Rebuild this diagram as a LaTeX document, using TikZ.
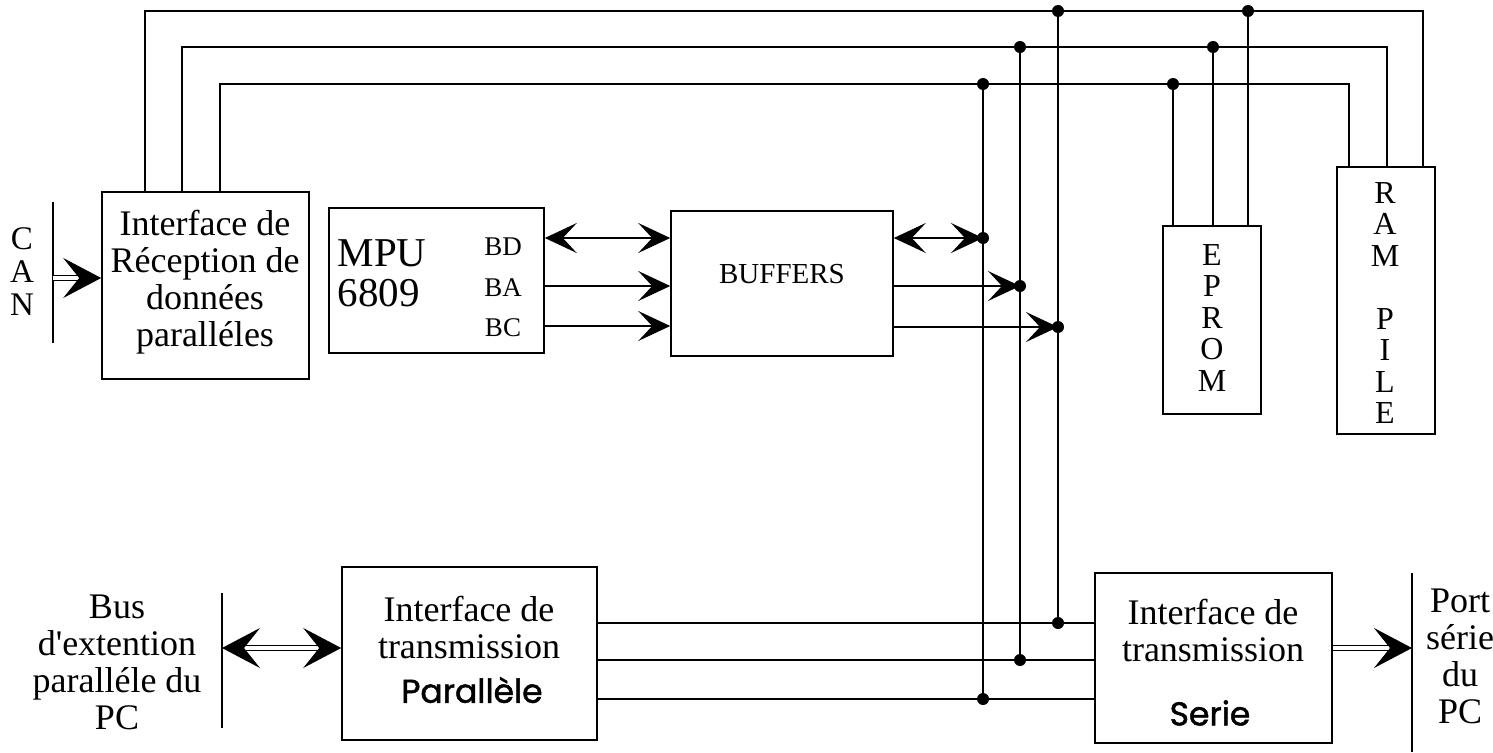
\documentclass[tikz,border=0pt]{standalone}
\usepackage{fontspec}
\setmainfont{Liberation Serif}[Ligatures=TeXOff]
\newfontfamily\handfont{Poppins}[FakeBold=1.5]
\usetikzlibrary{arrows.meta}
\begin{document}
\begin{tikzpicture}[x=1pt,y=-1pt,
  line width=1.4pt,
  box/.style={draw, line width=1.6pt, inner sep=0pt},
  txt/.style={align=center, inner sep=0pt, font=\fontsize{36}{37}\selectfont},
  lbl/.style={inner sep=0pt, font=\fontsize{27}{28}\selectfont},
  vert/.style={align=center, inner sep=0pt, font=\fontsize{32}{31.5}\selectfont},
  hand/.style={inner sep=0pt, font=\handfont\fontsize{33}{34}\selectfont},
  btip/.tip={Stealth[length=32pt,width=30pt,inset=14pt]},
  htip/.tip={Stealth[length=38pt,width=40pt,inset=16pt]},
  dbl/.style={double, double distance=4pt, line width=1.2pt}
]
\useasboundingbox (0,0) rectangle (1493,752);

% boxes
\node[box, minimum width=207pt, minimum height=187pt] (rec) at (205.5,285.5) {};
\node[box, minimum width=215pt, minimum height=145pt] (mpu) at (436.5,280.5) {};
\node[box, minimum width=222pt, minimum height=145pt] (buf) at (782,283.5) {};
\node[box, minimum width=98pt, minimum height=188pt] (eprom) at (1212,320) {};
\node[box, minimum width=98pt, minimum height=267pt] (ram) at (1386,300.5) {};
\node[box, minimum width=255pt, minimum height=173pt] (par) at (469.5,653.5) {};
\node[box, minimum width=237pt, minimum height=170pt] (ser) at (1213.5,658) {};

% texts
\node[txt] (rectxt) at (205,282) {Interface de\\Réception de\\données\\paralléles};
\node[txt, align=left, anchor=west, font=\fontsize{41}{40}\selectfont] (mputxt) at (337,273) {MPU\\6809};
\node[lbl] (bd) at (503,247) {BD};
\node[lbl] (ba) at (503,288) {BA};
\node[lbl] (bc) at (503,328) {BC};
\node[txt, font=\fontsize{29}{30}\selectfont] (buftxt) at (782,274) {BUFFERS};
\node[vert] (epromtxt) at (1212,318) {E\\P\\R\\O\\M};
\node[vert] (ramtxt) at (1385,303) {R\\A\\M\\\mbox{}\\P\\I\\L\\E};
\node[txt] (partxt) at (469,627) {Interface de\\transmission};
\node[hand] (parhand) at (472,690) {Parallèle};
\node[txt] (sertxt) at (1213,630) {Interface de\\transmission};
\node[hand] (serhand) at (1210,713) {Serie};
\node[txt] (bustxt) at (117,662) {Bus\\d'extention\\paralléle du\\PC};
\node[txt] (porttxt) at (1460,656) {Port\\série\\du\\PC};
\node[txt, font=\fontsize{33}{33}\selectfont] (cantxt) at (22,272) {C\\A\\N};

% coordinates
\coordinate (t1L) at (145,11);  \coordinate (t1R) at (1423,11);
\coordinate (t2L) at (182,47);  \coordinate (t2R) at (1387,47);
\coordinate (t3L) at (220,84);  \coordinate (t3R) at (1349,84);
\coordinate (e1) at (1248,11);  \coordinate (e2) at (1213,47);  \coordinate (e3) at (1173,84);
\coordinate (v1) at (1058,11);  \coordinate (v2) at (1020,47);  \coordinate (v3) at (983,84);
\coordinate (j1) at (1058,623); \coordinate (j2) at (1020,660); \coordinate (j3) at (983,699);
\coordinate (o1) at (983,238);  \coordinate (o2) at (1020,286); \coordinate (o3) at (1058,327);
\coordinate (bdy) at (600,238); \coordinate (bay) at (600,286); \coordinate (bcy) at (600,326);
\coordinate (canT) at (53,202); \coordinate (canB) at (53,343); \coordinate (canA) at (53,278);
\coordinate (busT) at (222,593); \coordinate (busB) at (222,728); \coordinate (busA) at (222,648);
\coordinate (portT) at (1412,573); \coordinate (portB) at (1412,752); \coordinate (portA) at (1412,648);

% top buses
\draw (rec.north -| t1L) -- (t1L) -- (t1R) -- (ram.north -| t1R);
\draw (rec.north -| t2L) -- (t2L) -- (t2R) -- (ram.north -| t2R);
\draw (rec.north -| t3L) -- (t3L) -- (t3R) -- (ram.north -| t3R);
\draw (e1) -- (eprom.north -| e1);
\draw (e2) -- (eprom.north -| e2);
\draw (e3) -- (eprom.north -| e3);
\draw (v1) -- (j1);
\draw (v2) -- (j2);
\draw (v3) -- (j3);

% bottom buses
\draw (par.east |- j1) -- (ser.west |- j1);
\draw (par.east |- j2) -- (ser.west |- j2);
\draw (par.east |- j3) -- (ser.west |- j3);

% MPU -> buffers
\draw[{btip}-{btip}] (mpu.east |- bdy) -- (buf.west |- bdy);
\draw[-{btip}] (mpu.east |- bay) -- (buf.west |- bay);
\draw[-{btip}] (mpu.east |- bcy) -- (buf.west |- bcy);

% buffers -> bus
\draw[{btip}-{btip}] (buf.east |- o1) -- (o1);
\draw[-{btip}] (buf.east |- o2) -- (o2);
\draw[-{btip}] (buf.east |- o3) -- (o3);

% CAN
\draw (canT) -- (canB);
\draw[dbl, -{htip}] (canA) -- (rec.west |- canA);
% PC bus
\draw (busT) -- (busB);
\draw[dbl, {htip}-{htip}] (busA) -- (par.west |- busA);
% serial port
\draw (portT) -- (portB);
\draw[dbl, -{htip}] (ser.east |- portA) -- (portA);

% dots
\foreach \p in {e1,e2,e3,v1,v2,v3,j1,j2,j3,o1,o2,o3} \fill (\p) circle (6pt);
\end{tikzpicture}
\end{document}
